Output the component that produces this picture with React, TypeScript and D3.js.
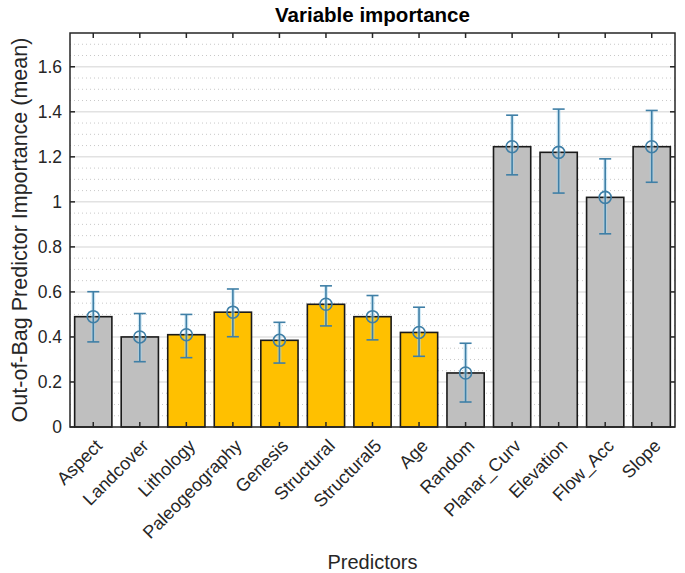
import React from 'react';
import * as d3 from 'd3';

// Predictors and their out-of-bag importance (mean) with error bar ends
const predictors = [
  'Aspect', 'Landcover', 'Lithology', 'Paleogeography', 'Genesis', 'Structural',
  'Structural5', 'Age', 'Random', 'Planar_Curv', 'Elevation', 'Flow_Acc', 'Slope',
];
const importance = [0.49, 0.40, 0.41, 0.51, 0.385, 0.545, 0.49, 0.42, 0.24, 1.245, 1.22, 1.02, 1.245];
const errLow = [0.378, 0.29, 0.308, 0.401, 0.284, 0.449, 0.387, 0.314, 0.111, 1.12, 1.039, 0.858, 1.087];
const errHigh = [0.601, 0.504, 0.50, 0.613, 0.465, 0.627, 0.584, 0.532, 0.372, 1.385, 1.412, 1.191, 1.406];
const geoGroup = ['Lithology', 'Paleogeography', 'Genesis', 'Structural', 'Structural5', 'Age'];
const yTicks = [0, 0.2, 0.4, 0.6, 0.8, 1, 1.2, 1.4, 1.6];

const W = 685;
const H = 573;
const margin = { top: 33, right: 10, bottom: 146, left: 70 };
const FONT = '"Liberation Sans", Arial, Helvetica, sans-serif';
const AXIS = '#262626';

export default function App() {
  const x = d3
    .scaleBand<string>()
    .domain(predictors)
    .range([margin.left, W - margin.right])
    .paddingInner(0.2)
    .paddingOuter(0.1);
  const y = d3.scaleLinear().domain([0, 1.75]).range([H - margin.bottom, margin.top]);

  const x0 = margin.left;
  const x1 = W - margin.right;
  const y0 = y(0);
  const yTop = margin.top;
  // minor grid every 0.05, skipping the major lines
  const minor = d3.range(0.05, 1.75, 0.05).filter((v) => Math.abs(v / 0.2 - Math.round(v / 0.2)) > 0.01);
  const cx = (d: string) => (x(d) as number) + x.bandwidth() / 2;

  return (
    <svg width={W} height={H} style={{ position: 'absolute', left: 0, top: 0, background: '#fff' }} fontFamily={FONT}>
      {/* grid */}
      {minor.map((v) => (
        <line key={'m' + v} x1={x0} x2={x1} y1={y(v)} y2={y(v)} stroke="#c8c8c8" strokeWidth={1} strokeDasharray="1,3" />
      ))}
      {yTicks.slice(1).map((v) => (
        <line key={'g' + v} x1={x0} x2={x1} y1={y(v)} y2={y(v)} stroke="#e2e2e2" strokeWidth={1.5} />
      ))}

      {/* bars */}
      {predictors.map((p, i) => (
        <rect
          key={p}
          x={x(p)}
          y={y(importance[i])}
          width={x.bandwidth()}
          height={y0 - y(importance[i])}
          fill={geoGroup.includes(p) ? '#ffc000' : '#bfbfbf'}
          stroke="#1a1a1a"
          strokeWidth={1.6}
        />
      ))}

      {/* error bars */}
      {predictors.map((p, i) => {
        const c = cx(p);
        return (
          <g key={'e' + p}>
            <line x1={c} x2={c} y1={y(errLow[i])} y2={y(errHigh[i])} stroke="#a8d8f0" strokeWidth={4} opacity={0.5} />
            <line x1={c} x2={c} y1={y(errLow[i])} y2={y(errHigh[i])} stroke="#3f7fa6" strokeWidth={1.6} />
            <line x1={c - 6} x2={c + 6} y1={y(errLow[i])} y2={y(errLow[i])} stroke="#3f7fa6" strokeWidth={1.6} />
            <line x1={c - 6} x2={c + 6} y1={y(errHigh[i])} y2={y(errHigh[i])} stroke="#3f7fa6" strokeWidth={1.6} />
            <circle cx={c} cy={y(importance[i])} r={6} fill="none" stroke="#3f7fa6" strokeWidth={1.6} />
          </g>
        );
      })}

      {/* box */}
      <rect x={x0} y={yTop} width={x1 - x0} height={y0 - yTop} fill="none" stroke={AXIS} strokeWidth={1.5} />

      {/* y ticks */}
      {yTicks.map((v) => (
        <g key={'yt' + v}>
          <line x1={x0} x2={x0 + 5} y1={y(v)} y2={y(v)} stroke={AXIS} strokeWidth={1.5} />
          <line x1={x1} x2={x1 - 5} y1={y(v)} y2={y(v)} stroke={AXIS} strokeWidth={1.5} />
          <text x={x0 - 8} y={y(v)} dy="0.36em" textAnchor="end" fontSize={17.5} fill={AXIS}>
            {d3.format('~g')(v)}
          </text>
        </g>
      ))}

      {/* x ticks */}
      {predictors.map((p) => (
        <g key={'xt' + p}>
          <line x1={cx(p)} x2={cx(p)} y1={y0} y2={y0 - 5} stroke={AXIS} strokeWidth={1.5} />
          <line x1={cx(p)} x2={cx(p)} y1={yTop} y2={yTop + 5} stroke={AXIS} strokeWidth={1.5} />
          <text
            transform={`translate(${cx(p) + 10},${y0 + 20}) rotate(-45)`}
            textAnchor="end"
            fontSize={18}
            fill={AXIS}
          >
            {p}
          </text>
        </g>
      ))}

      {/* titles */}
      <text x={(x0 + x1) / 2} y={22} textAnchor="middle" fontSize={20.5} fontWeight="bold" fill="#000">
        Variable importance
      </text>
      <text x={(x0 + x1) / 2} y={569} textAnchor="middle" fontSize={20} fill={AXIS}>
        Predictors
      </text>
      <text
        transform={`translate(27,${(yTop + y0) / 2}) rotate(-90)`}
        textAnchor="middle"
        fontSize={21.5}
        fill={AXIS}
      >
        Out-of-Bag Predictor Importance (mean)
      </text>
    </svg>
  );
}
